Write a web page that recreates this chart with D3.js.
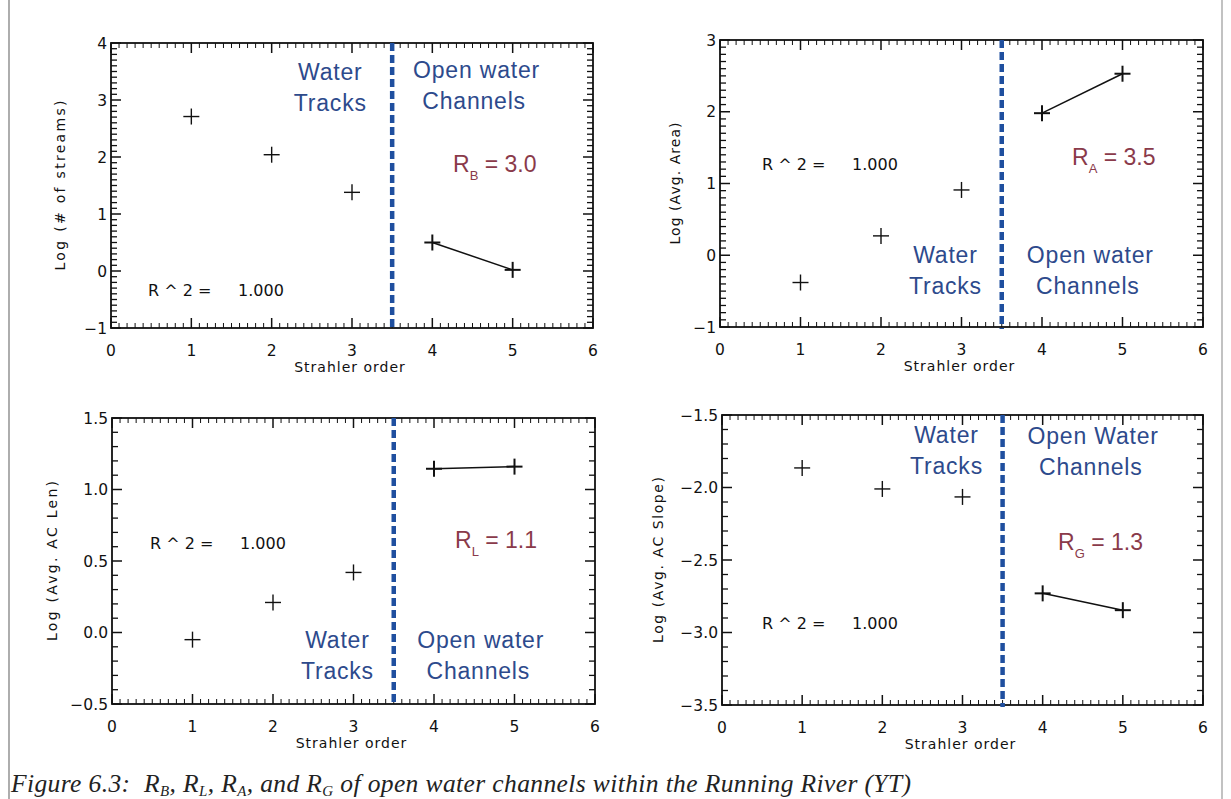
<!DOCTYPE html>
<html><head><meta charset="utf-8">
<script src="https://cdn.jsdelivr.net/npm/d3@7"></script>
<style>
html,body{margin:0;padding:0;background:#fff;}
svg{display:block;}
</style></head>
<body>
<svg id="chart" width="1231" height="799"></svg>
<script>
// ---------- data ----------
const strahlerOrder = [1, 2, 3, 4, 5];
const xTickLabels = [0, 1, 2, 3, 4, 5, 6];

const logStreams = [2.71, 2.04, 1.38, 0.50, 0.02];
const logArea    = [-0.38, 0.27, 0.91, 1.98, 2.53];
const logLength  = [-0.05, 0.21, 0.42, 1.145, 1.16];
const logSlope   = [-1.865, -2.01, -2.065, -2.73, -2.846];

const yTicksStreams = [-1, 0, 1, 2, 3, 4];
const yTicksArea    = [-1, 0, 1, 2, 3];
const yTicksLength  = [-0.5, 0.0, 0.5, 1.0, 1.5];
const yTicksSlope   = [-3.5, -3.0, -2.5, -2.0, -1.5];

const yTitles = ["Log (# of streams)", "Log (Avg. Area)", "Log (Avg. AC Len)", "Log (Avg. AC Slope)"];
const ratioSubs = ["B", "A", "L", "G"];
const ratioValues = ["3.0", "3.5", "1.1", "1.3"];
const rSquared = ["1.000", "1.000", "1.000", "1.000"];
const openLabels = ["Open water", "Open water", "Open water", "Open Water"];
const divider = 3.5;

// ---------- layout ----------
const panels = [
  {vals: logStreams, ticks: yTicksStreams, minor: 0.1, fmt: d => d3.format("d")(d).replace("-", "\u2212"),
   box: [111, 43, 593, 328], titleOff: 46, titleLen: 170,
   water: [2.73, 80], open: [4.55, 78], ratio: [453, 172], r2: [148, 296]},
  {vals: logArea, ticks: yTicksArea, minor: 0.1, fmt: d => d3.format("d")(d).replace("-", "\u2212"),
   box: [720, 40, 1203, 327], titleOff: 40, titleLen: 122,
   water: [2.8, 263], open: [4.6, 263], ratio: [1072, 165], r2: [762, 170]},
  {vals: logLength, ticks: yTicksLength, minor: 0.1, fmt: d => d3.format(".1f")(d).replace("-", "\u2212"),
   box: [112, 418, 595, 704], titleOff: 55, titleLen: 160,
   water: [2.8, 648], open: [4.58, 648], ratio: [455, 548], r2: [150, 549]},
  {vals: logSlope, ticks: yTicksSlope, minor: 0.1, fmt: d => d3.format(".1f")(d).replace("-", "\u2212"),
   box: [722, 415, 1203, 705], titleOff: 59, titleLen: 166,
   water: [2.8, 443], open: [4.63, 444], ratio: [1058, 550], r2: [762, 629]}
];

const svg = d3.select("#chart");
const BLUE = "#2d4a8c", RED = "#8a3a4a", DASH = "#1f4f9f";
const tickFont = "'DejaVu Sans', sans-serif";

// outer frame
svg.append("line").attr("x1", 9).attr("x2", 9).attr("y1", 0).attr("y2", 799).attr("stroke", "#777").attr("stroke-width", 1.2);
svg.append("line").attr("x1", 1222).attr("x2", 1222).attr("y1", 0).attr("y2", 799).attr("stroke", "#999").attr("stroke-width", 1.2);

panels.forEach((p, i) => {
  const [x0, y0, x1, y1] = p.box;
  const dom = d3.extent(p.ticks);
  const x = d3.scaleLinear().domain(d3.extent(xTickLabels)).range([x0, x1]);
  const y = d3.scaleLinear().domain(dom).range([y1, y0]);
  const g = svg.append("g");

  // ticks (major + minor), mirrored on all four sides
  const xMinor = d3.range(0, 6.0001, 0.1);
  const yMinor = d3.range(dom[0], dom[1] + 1e-6, p.minor);
  const tk = g.append("g").attr("stroke", "#111");
  xMinor.forEach(v => {
    const major = Math.abs(v - Math.round(v)) < 1e-6;
    const L = major ? 10 : 5;
    tk.append("line").attr("x1", x(v)).attr("x2", x(v)).attr("y1", y1).attr("y2", y1 - L).attr("stroke-width", major ? 1.5 : 1);
    tk.append("line").attr("x1", x(v)).attr("x2", x(v)).attr("y1", y0).attr("y2", y0 + L).attr("stroke-width", major ? 1.5 : 1);
  });
  yMinor.forEach(v => {
    const major = p.ticks.some(t => Math.abs(t - v) < 1e-6);
    const L = major ? 10 : 6;
    tk.append("line").attr("y1", y(v)).attr("y2", y(v)).attr("x1", x0).attr("x2", x0 + L).attr("stroke-width", major ? 1.5 : 1.3);
    tk.append("line").attr("y1", y(v)).attr("y2", y(v)).attr("x1", x1).attr("x2", x1 - L).attr("stroke-width", major ? 1.5 : 1.3);
  });

  // frame
  g.append("rect").attr("x", x0).attr("y", y0).attr("width", x1 - x0).attr("height", y1 - y0)
    .attr("fill", "none").attr("stroke", "#111").attr("stroke-width", 1.8);

  // tick labels
  g.selectAll(".xl").data(xTickLabels).join("text")
    .attr("x", d => x(d)).attr("y", y1 + 28).attr("text-anchor", "middle")
    .attr("font-family", tickFont).attr("font-size", 15.5).attr("fill", "#111").text(d => d);
  g.selectAll(".yl").data(p.ticks).join("text")
    .attr("x", x0 - 4).attr("y", d => y(d) + 5.5).attr("text-anchor", "end")
    .attr("font-family", tickFont).attr("font-size", 15.5).attr("fill", "#111").text(p.fmt);

  // axis titles
  g.append("text").attr("x", (x0 + x1) / 2 - 2).attr("y", y1 + 44).attr("text-anchor", "middle")
    .attr("font-family", tickFont).attr("font-size", 14).attr("letter-spacing", 1).attr("fill", "#111")
    .text("Strahler order");
  g.append("text").attr("transform", `translate(${x0 - p.titleOff},${(y0 + y1) / 2}) rotate(-90)`)
    .attr("text-anchor", "middle").attr("font-family", tickFont).attr("font-size", 14).attr("fill", "#111")
    .attr("textLength", p.titleLen).attr("lengthAdjust", "spacing")
    .text(yTitles[i]);

  // divider
  g.append("line").attr("x1", x(divider)).attr("x2", x(divider)).attr("y1", y0).attr("y2", y1 + 2)
    .attr("stroke", DASH).attr("stroke-width", 4.5).attr("stroke-dasharray", "8,4");

  // fit line over open-water channels
  const pts = strahlerOrder.map((o, k) => [o, p.vals[k]]);
  const fit = pts.filter(d => d[0] > divider);
  g.append("path").attr("d", d3.line().x(d => x(d[0])).y(d => y(d[1]))(fit))
    .attr("fill", "none").attr("stroke", "#111").attr("stroke-width", 1.5);

  // plus markers
  pts.forEach(d => {
    const cx = x(d[0]), cy = y(d[1]), s = 8;
    const w = d[0] > divider ? 2 : 1.4;
    g.append("line").attr("x1", cx - s).attr("x2", cx + s).attr("y1", cy).attr("y2", cy).attr("stroke", "#111").attr("stroke-width", w);
    g.append("line").attr("x1", cx).attr("x2", cx).attr("y1", cy - s).attr("y2", cy + s).attr("stroke", "#111").attr("stroke-width", w);
  });

  // region labels
  const lab = (txt, xv, yb) => g.append("text").attr("x", x(xv)).attr("y", yb).attr("text-anchor", "middle")
    .attr("font-family", "'Liberation Sans', Arial, sans-serif").attr("font-size", 23).attr("letter-spacing", 0.8)
    .attr("fill", BLUE).text(txt);
  lab("Water", p.water[0], p.water[1]);
  lab("Tracks", p.water[0], p.water[1] + 31);
  lab(openLabels[i], p.open[0], p.open[1]);
  lab("Channels", p.open[0] - 0.03, p.open[1] + 31);

  // ratio label
  const rt = g.append("text").attr("x", p.ratio[0]).attr("y", p.ratio[1])
    .attr("font-family", "'Liberation Sans', Arial, sans-serif").attr("font-size", 23).attr("fill", RED);
  rt.append("tspan").text("R");
  rt.append("tspan").attr("font-size", 13).attr("dy", 8).text(ratioSubs[i]);
  rt.append("tspan").attr("dy", -8).text(" = " + ratioValues[i]);

  // R^2
  g.append("text").attr("x", p.r2[0]).attr("y", p.r2[1]).attr("font-family", tickFont).attr("font-size", 16)
    .attr("fill", "#111").attr("xml:space", "preserve").text("R ^ 2 =");
  g.append("text").attr("x", p.r2[0] + 90).attr("y", p.r2[1]).attr("font-family", tickFont).attr("font-size", 16)
    .attr("fill", "#111").text(rSquared[i]);
});

// caption
const cap = svg.append("text").attr("x", 11).attr("y", 792)
  .attr("font-family", "'Liberation Serif', 'Times New Roman', serif").attr("font-style", "italic")
  .attr("font-size", 25.5).attr("fill", "#222")
  .attr("textLength", 900).attr("lengthAdjust", "spacing");
cap.append("tspan").attr("xml:space", "preserve").text("Figure 6.3:  R");
const subPart = (s, after) => {
  cap.append("tspan").attr("font-size", 15).attr("dy", 4).text(s);
  cap.append("tspan").attr("dy", -4).text(after);
};
subPart("B", ", R");
subPart("L", ", R");
subPart("A", ", and R");
subPart("G", " of open water channels within the Running River (YT)");
</script>
</body></html>
